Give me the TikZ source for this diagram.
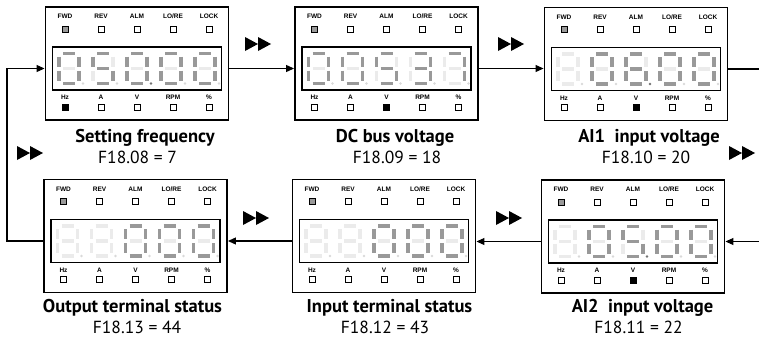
\documentclass[tikz,border=0pt]{standalone}
\usepackage{fontspec}
\setmainfont{PT Sans}
\newfontfamily\tagfont{Liberation Sans}
\usetikzlibrary{arrows.meta, calc}

\definecolor{segon}{gray}{0.6}
\definecolor{segoff}{gray}{0.92}
\definecolor{doton}{gray}{0.45}
\definecolor{dotoff}{gray}{0.85}
\definecolor{ledgray}{gray}{0.6}

% segments a,b,c,d,e,f,g
\newcommand\gblank{0,0,0,0,0,0,0}
\newcommand\gzero{1,1,1,1,1,1,0}
\newcommand\gthree{1,1,1,1,0,0,1}
\newcommand\gfive{1,0,1,1,0,1,1}
\newcommand\gsix{1,0,1,1,1,1,1}
\newcommand\gseven{1,1,1,0,0,0,0}

\newcommand\segdigit[2]{%
  \foreach \xa/\ya/\xb/\yb [count=\k from 0] in {-6/-15/6/-15, 10/-12/10/-2, 10/2/10/12, -6/15/6/15, -10/2/-10/12, -10/-12/-10/-2, -6/0/6/0}{
    \pgfmathtruncatemacro\lit{{#2}[\k]}
    \draw[seg\lit, shift={(#1,0)}] (\xa,\ya) -- (\xb,\yb);
  }
}

\newcommand\panel[5]{%
  \node[panel] (#1) at (#2) {};
  \node[screen] (#1s) at ($(#1.center)+(0,5)$) {};
  \begin{scope}[shift={(#1s.center)}]
    \foreach \glyph [count=\i] in {#3}{
      \pgfmathtruncatemacro\dx{(\i-3)*34}
      \pgfmathtruncatemacro\litpt{\i==#4}
      \segdigit{\dx}{\glyph}
      \fill[dot\litpt] (\dx+14,15) circle (1.4);
    }
  \end{scope}
  \foreach \name [count=\i] in {FWD,REV,ALM,LO/RE,LOCK}{
    \pgfmathtruncatemacro\dx{(\i-3)*36}
    \ifnum\i=1 \def\ledfill{ledgray}\else\def\ledfill{white}\fi
    \node[tag] (#1t\i) at ($(#1.center)+(\dx,-47)$) {\name};
    \node[led, fill=\ledfill] (#1u\i) at ($(#1.center)+(\dx,-34.5)$) {};
  }
  \foreach \name [count=\i] in {Hz,A,V,RPM,\%}{
    \pgfmathtruncatemacro\dx{(\i-3)*36}
    \ifnum\i=#5 \def\ledfill{black}\else\def\ledfill{white}\fi
    \node[tag] (#1b\i) at ($(#1.center)+(\dx,34)$) {\name};
    \node[led, fill=\ledfill] (#1v\i) at ($(#1.center)+(\dx,43.5)$) {};
  }
}

\begin{document}
\begin{tikzpicture}[x=1pt, y=-1pt,
    panel/.style={draw, line width=1.9pt, minimum width=183pt, minimum height=113pt, inner sep=0pt},
    screen/.style={draw, line width=1.1pt, minimum width=169pt, minimum height=43pt, inner sep=0pt},
    seg0/.style={line width=3.2pt, segoff},
    seg1/.style={line width=3.2pt, segon},
    dot0/.style={dotoff},
    dot1/.style={doton},
    tag/.style={font=\tagfont\fontsize{6.5}{7}\selectfont\bfseries, inner sep=0pt},
    led/.style={draw, line width=0.8pt, minimum size=6pt, inner sep=0pt},
    title/.style={font=\fontsize{18.5}{20}\selectfont\bfseries, inner sep=0pt},
    code/.style={font=\fontsize{17.5}{19}\selectfont, inner sep=0pt},
    link/.style={line width=1.1pt, -{Triangle[length=8pt, width=7pt]}},
    ffwd/.pic={
      \fill (-13,-7) -- (0,0) -- (-13,7) -- cycle;
      \fill (0,-7) -- (13,0) -- (0,7) -- cycle;
    }]

    \useasboundingbox (0,0) rectangle (759,340);
    \clip (0,0) rectangle (759,340);

    % top row
    \panel{freq}{137,63.5}{\gzero,\gfive,\gzero,\gzero,\gzero}{3}{1}
    \panel{dcbus}{386.5,63.5}{\gzero,\gzero,\gfive,\gthree,\gseven}{0}{3}
    \panel{aione}{636,64}{\gblank,\gzero,\gsix,\gzero,\gzero}{3}{3}

    % bottom row
    \panel{outterm}{135.5,236}{\gblank,\gblank,\gzero,\gzero,\gzero}{0}{0}
    \panel{interm}{384,236}{\gblank,\gblank,\gzero,\gzero,\gzero}{0}{0}
    \panel{aitwo}{633,236.5}{\gblank,\gzero,\gfive,\gzero,\gzero}{3}{3}

    % captions
    \node[title] (freqtitle) at (145,138) {Setting frequency};
    \node[code] (freqcode) at (137.5,157) {F18.08 = 7};
    \node[title] (dcbustitle) at (395,138) {DC bus voltage};
    \node[code] (dcbuscode) at (397,157) {F18.09 = 18};
    \node[title] (aionetitle) at (649,138) {AI1~ input voltage};
    \node[code] (aionecode) at (646,157) {F18.10 = 20};
    \node[title] (outtermtitle) at (132.5,308) {Output terminal status};
    \node[code] (outtermcode) at (137,327) {F18.13 = 44};
    \node[title] (intermtitle) at (389.5,308) {Input terminal status};
    \node[code] (intermcode) at (385,327) {F18.12 = 43};
    \node[title] (aitwotitle) at (642.5,308) {AI2~ input voltage};
    \node[code] (aitwocode) at (638.5,327) {F18.11 = 22};

    % connectors
    \coordinate (leftturn) at (7,0);
    \coordinate (rightturn) at (775,0);
    \draw[link] (freq.east |- freqs.center) -- (dcbus.west |- freqs.center);
    \draw[link] (dcbus.east |- dcbuss.center) -- (aione.west |- dcbuss.center);
    \draw[link] (aione.east |- aiones.center) -- (rightturn |- aiones.center)
        -- (rightturn |- aitwos.center) -- (aitwo.east |- aitwos.center);
    \draw[link] (aitwo.west |- aitwos.center) -- (interm.east |- aitwos.center);
    \draw[link] (interm.west |- interms.center) -- (outterm.east |- interms.center);
    \draw[link] (outterm.west |- outterms.center) -- (leftturn |- outterms.center)
        -- (leftturn |- freqs.center) -- (freq.west |- freqs.center);

    % fast-forward marks
    \pic at (258,44) {ffwd};
    \pic at (511,44) {ffwd};
    \pic at (742,153) {ffwd};
    \pic at (30,153) {ffwd};
    \pic at (256,218) {ffwd};
    \pic at (509,218) {ffwd};

\end{tikzpicture}
\end{document}
